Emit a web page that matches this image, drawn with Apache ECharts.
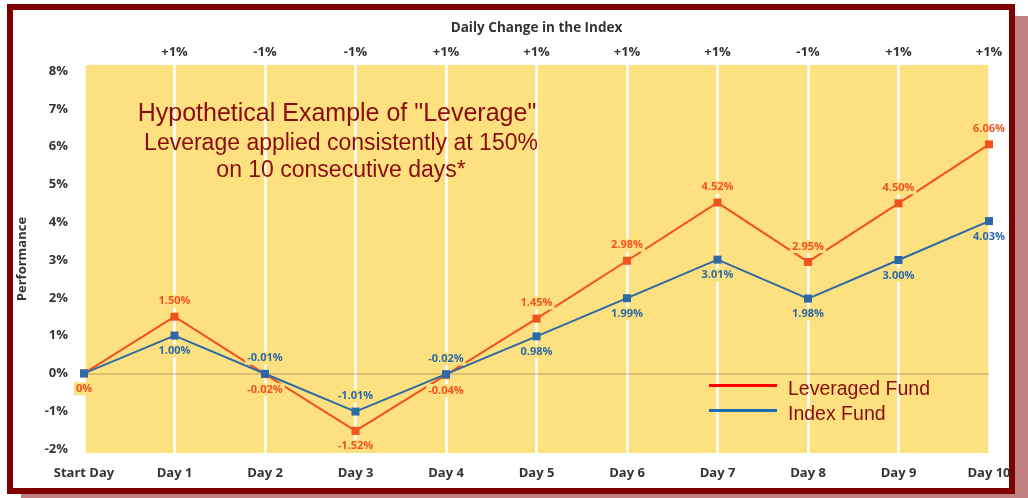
<!DOCTYPE html>
<html>
<head>
<meta charset="utf-8">
<script src="https://cdn.jsdelivr.net/npm/echarts@6/dist/echarts.min.js"></script>
<style>
  html, body { margin: 0; padding: 0; background: #ffffff; overflow: hidden; }
  #frame { position: absolute; left: 7px; top: 4px; width: 996px; height: 478px;
           border: 6px solid #800000; background: #ffffff; box-shadow: 14px 12px 0 #c08080; }
  #chart { position: absolute; left: 0; top: 0; width: 1028px; height: 498px; }
</style>
</head>
<body>
<div id="frame"></div>
<div id="chart"></div>
<script>
// ---- data ----
const days = ['Start Day', 'Day 1', 'Day 2', 'Day 3', 'Day 4', 'Day 5', 'Day 6', 'Day 7', 'Day 8', 'Day 9', 'Day 10'];
const dailyChange = ['', '+1%', '-1%', '-1%', '+1%', '+1%', '+1%', '+1%', '-1%', '+1%', '+1%'];
const leveraged = [0, 1.50, -0.02, -1.52, -0.04, 1.45, 2.98, 4.52, 2.95, 4.50, 6.06];
const indexFund = [0, 1.00, -0.01, -1.01, -0.02, 0.98, 1.99, 3.01, 1.98, 3.00, 4.03];
const leveragedLabelPos = ['bottom', 'top', 'bottom', 'bottom', 'bottom', 'top', 'top', 'top', 'top', 'top', 'top'];
const indexLabelPos = ['none', 'bottom', 'top', 'top', 'top', 'bottom', 'bottom', 'bottom', 'bottom', 'bottom', 'bottom'];
const yTicks = [-2, -1, 0, 1, 2, 3, 4, 5, 6, 7, 8];

const YELLOW = '#fde07f';
const ORANGE = '#f2521f';
const BLUE = '#2c6aa6';
const DARKRED = '#8a0c0c';
const axisFont = 'Open Sans';

function fmt(v) { return v === 0 ? '0%' : v.toFixed(2) + '%'; }

function seriesData(values, positions) {
  const last = values.length - 1;
  return values.map((v, i) => {
    const pos = positions[i];
    if (pos === 'none') return { value: v, label: { show: false } };
    const item = { value: v, label: { position: pos } };
    if (i === last) item.label.backgroundColor = 'transparent';
    return item;
  });
}

const dataLabel = (color) => ({
  show: true,
  formatter: (p) => fmt(p.value),
  color: color,
  fontFamily: axisFont,
  fontWeight: 'bold',
  fontSize: 11,
  distance: 5,
  backgroundColor: YELLOW,
  padding: [1, 2]
});

const chart = echarts.init(document.getElementById('chart'));
chart.setOption({
  animation: false,
  grid: { left: 84, right: 39, top: 65, bottom: 45, show: true, backgroundColor: YELLOW, borderWidth: 0 },
  title: [
    { text: 'Hypothetical Example of "Leverage"', left: 332, top: 97, textAlign: 'center',
      textStyle: { fontFamily: 'Liberation Sans', fontWeight: 'normal', fontSize: 25, color: DARKRED } },
    { text: 'Leverage applied consistently at 150%\non 10 consecutive days*', left: 336, top: 125, textAlign: 'center',
      textStyle: { fontFamily: 'Liberation Sans', fontWeight: 'normal', fontSize: 23, lineHeight: 27, color: DARKRED } }
  ],
  legend: {
    orient: 'vertical', left: 709, top: 371, itemWidth: 68, itemHeight: 3, itemGap: -4, padding: 0,
    icon: 'rect',
    data: [
      { name: 'Leveraged Fund', itemStyle: { color: '#ff0000' } },
      { name: 'Index Fund', itemStyle: { color: '#1e6db3' } }
    ],
    formatter: '{t|{name}}',
    textStyle: {
      rich: { t: { fontFamily: 'Liberation Sans', fontSize: 19.5, lineHeight: 20, color: DARKRED, padding: [9, 0, 0, 6] } }
    }
  },
  xAxis: [
    {
      type: 'category', data: days, boundaryGap: false, position: 'bottom',
      axisLine: { show: false }, axisTick: { show: false },
      axisLabel: { margin: 14, fontFamily: axisFont, fontWeight: 'bold', fontSize: 13, color: '#333' },
      splitLine: { show: true, lineStyle: { color: '#ffffff', width: 2.5 } }
    },
    {
      type: 'category', data: dailyChange, boundaryGap: false, position: 'top',
      name: 'Daily Change in the Index', nameLocation: 'middle', nameGap: 30,
      nameTextStyle: { fontFamily: axisFont, fontWeight: 'bold', fontSize: 13.5, color: '#333' },
      axisLine: { show: false }, axisTick: { show: false },
      axisLabel: { margin: 6, fontFamily: axisFont, fontWeight: 'bold', fontSize: 13, color: '#333' },
      splitLine: { show: false }
    }
  ],
  yAxis: {
    type: 'value', min: -2.106, max: 8.16,
    name: 'Performance', nameLocation: 'middle', nameGap: 55, nameRotate: 90,
    nameTextStyle: { fontFamily: 'Open Sans', fontWeight: 'bold', fontSize: 13, color: '#333' },
    axisLine: { show: false }, axisTick: { show: false },
    splitLine: { show: false },
    axisLabel: {
      customValues: yTicks, margin: 16,
      formatter: (v) => Math.round(v) + '%',
      fontFamily: axisFont, fontWeight: 'bold', fontSize: 13, color: '#333'
    }
  },
  series: [
    {
      name: 'Leveraged Fund', type: 'line', xAxisIndex: 0,
      data: seriesData(leveraged, leveragedLabelPos),
      symbol: 'rect', symbolSize: 8,
      lineStyle: { color: ORANGE, width: 2 }, itemStyle: { color: ORANGE },
      label: dataLabel(ORANGE), z: 3,
      markLine: {
        silent: true, symbol: 'none', label: { show: false },
        lineStyle: { color: 'rgba(150,130,90,0.45)', type: 'solid', width: 1.5 },
        data: [{ yAxis: 0 }], z: 1
      }
    },
    {
      name: 'Index Fund', type: 'line', xAxisIndex: 0,
      data: seriesData(indexFund, indexLabelPos),
      symbol: 'rect', symbolSize: 8,
      lineStyle: { color: BLUE, width: 2 }, itemStyle: { color: BLUE },
      label: dataLabel(BLUE), z: 4
    }
  ]
});
</script>
</body>
</html>
